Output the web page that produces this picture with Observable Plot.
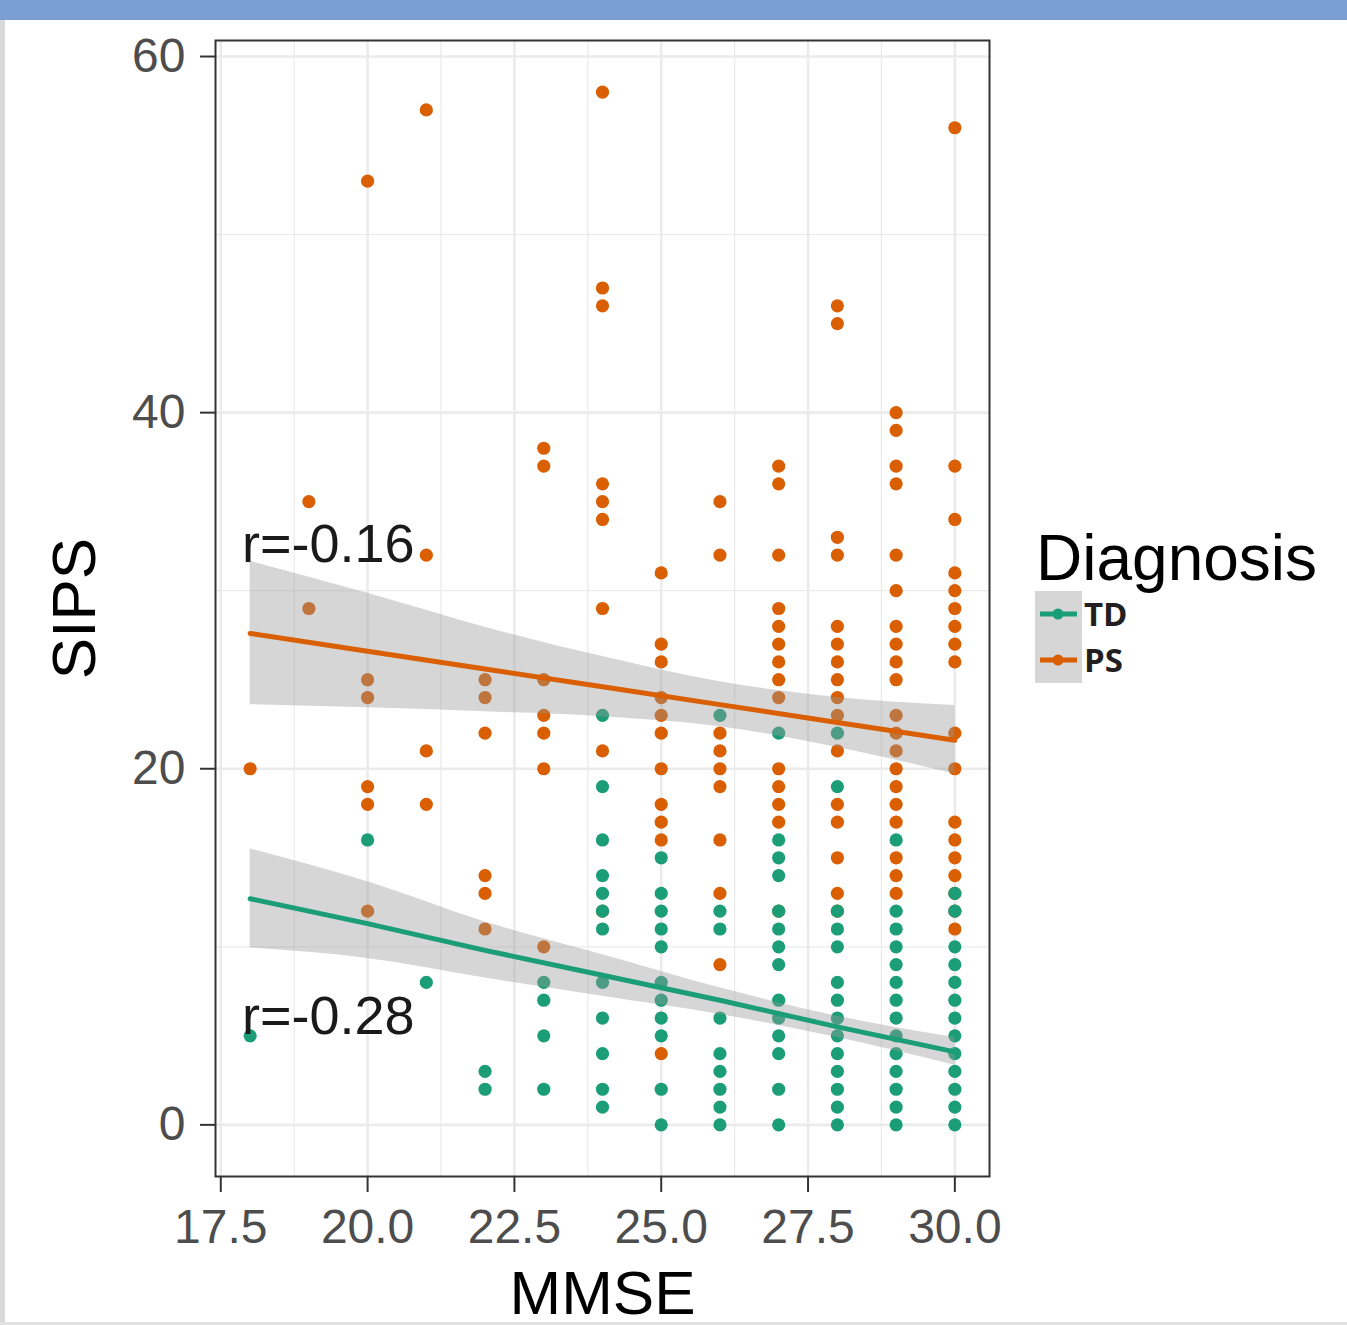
<!DOCTYPE html>
<html><head><meta charset="utf-8">
<script src="https://cdn.jsdelivr.net/npm/d3@7"></script>
<script src="https://cdn.jsdelivr.net/npm/@observablehq/plot@0.6"></script>
<style>
html,body{margin:0;padding:0;background:#fff;}
body{width:1347px;height:1325px;overflow:hidden;position:relative;font-family:"Liberation Sans",Arial,sans-serif;}
#chart{position:absolute;left:0;top:0;}
#legend{position:absolute;left:0;top:0;}
#topbar{position:absolute;left:0;top:0;width:1347px;height:20px;background:#7b9fd4;}
#leftbar{position:absolute;left:0;top:20px;width:5px;height:1305px;background:#d9d9d9;}
#bottombar{position:absolute;left:0;top:1322px;width:1347px;height:3px;background:#e2e2e2;}
</style></head>
<body>
<div id="chart"></div>
<div id="legend"></div>
<div id="topbar"></div>
<div id="leftbar"></div>
<div id="bottombar"></div>
<script>
// ---- data ----
const diagnoses = ["TD", "PS"];
const colors = ["#1b9e77", "#d95f02"];
const mmseValues = [18, 19, 20, 21, 22, 23, 24, 25, 26, 27, 28, 29, 30];
const tdSips = [
  [5],
  [],
  [16],
  [8],
  [3, 2],
  [8, 7, 5, 2],
  [23, 19, 16, 14, 13, 12, 11, 8, 6, 4, 2, 1],
  [15, 13, 12, 11, 10, 8, 7, 6, 5, 2, 0],
  [23, 12, 11, 6, 4, 3, 2, 1, 0],
  [22, 16, 15, 14, 12, 11, 10, 9, 7, 6, 5, 4, 2, 0],
  [22, 19, 12, 11, 10, 8, 7, 6, 5, 4, 3, 2, 1, 0],
  [16, 12, 11, 10, 9, 8, 7, 6, 5, 4, 3, 2, 1, 0],
  [13, 12, 10, 9, 8, 7, 6, 5, 4, 3, 2, 1, 0]
];
const psSips = [
  [20],
  [35, 29],
  [53, 25, 24, 19, 18, 12],
  [57, 32, 21, 18],
  [25, 24, 22, 14, 13, 11],
  [38, 37, 25, 23, 22, 20, 10],
  [58, 47, 46, 36, 35, 34, 29, 21, 12],
  [31, 27, 26, 24, 23, 22, 20, 18, 17, 16, 4],
  [35, 32, 22, 21, 20, 19, 16, 13, 9],
  [37, 36, 32, 29, 28, 27, 26, 25, 24, 20, 19, 18, 17, 12],
  [46, 45, 33, 32, 28, 27, 26, 25, 24, 23, 21, 18, 17, 15, 13, 12],
  [40, 39, 37, 36, 32, 30, 28, 27, 26, 25, 23, 22, 21, 20, 19, 18, 17, 15, 14, 13],
  [56, 37, 34, 31, 30, 29, 28, 27, 26, 22, 20, 17, 16, 15, 14, 13, 12, 11]
];
// fitted lines and 95% bands
const smoothX = [18, 20, 22, 24, 26, 28, 30];
const tdFit = [12.7, 11.3, 9.8, 8.4, 7.0, 5.5, 4.1];
const tdLo  = [9.93, 9.35, 8.25, 7.22, 6.2, 4.9, 3.35];
const tdHi  = [15.5, 13.65, 11.4, 9.56, 7.7, 6.1, 4.9];
const psFit = [27.6, 26.6, 25.6, 24.6, 23.6, 22.6, 21.6];
const psLo  = [23.6, 23.42, 23.2, 22.92, 22.36, 21.2, 19.7];
const psHi  = [31.65, 29.85, 27.95, 26.3, 24.88, 24.0, 23.55];
// annotations
const annoLabels = ["r=-0.16", "r=-0.28"];
const annoX = [19.33, 19.33];
const annoY = [32.6, 6.1];
// axes
const xTicks = [17.5, 20, 22.5, 25, 27.5, 30];
const xMinor = [18.75, 21.25, 23.75, 26.25, 28.75];
const yTicks = [0, 20, 40, 60];
const yMinor = [10, 30, 50];
const xLabel = "MMSE";
const yLabel = "SIPS";
const legendTitle = "Diagnosis";

// ---- build tables ----
const points = [];
mmseValues.forEach((m, i) => psSips[i].forEach(s => points.push({mmse: m, sips: s, diagnosis: "PS"})));
mmseValues.forEach((m, i) => tdSips[i].forEach(s => points.push({mmse: m, sips: s, diagnosis: "TD"})));
const smooth = [];
smoothX.forEach((m, i) => smooth.push({mmse: m, fit: tdFit[i], lo: tdLo[i], hi: tdHi[i], diagnosis: "TD"}));
smoothX.forEach((m, i) => smooth.push({mmse: m, fit: psFit[i], lo: psLo[i], hi: psHi[i], diagnosis: "PS"}));
const annos = annoLabels.map((t, i) => ({t, x: annoX[i], y: annoY[i]}));

const plot = Plot.plot({
  width: 1347,
  height: 1325,
  marginLeft: 215,
  marginRight: 358,
  marginTop: 40,
  marginBottom: 149,
  style: {fontFamily: "'Liberation Sans', Arial, sans-serif", background: "transparent", overflow: "visible"},
  x: {domain: [17.41, 30.59]},
  y: {domain: [-2.9, 60.9]},
  color: {domain: diagnoses, range: colors},
  marks: [
    Plot.ruleX(xMinor, {stroke: "#ebebeb", strokeWidth: 1.3}),
    Plot.ruleY(yMinor, {stroke: "#ebebeb", strokeWidth: 1.3}),
    Plot.ruleX(xTicks, {stroke: "#ebebeb", strokeWidth: 2.6}),
    Plot.ruleY(yTicks, {stroke: "#ebebeb", strokeWidth: 2.6}),
    Plot.dot(points, {x: "mmse", y: "sips", fill: "diagnosis", r: 6.6, stroke: "none"}),
    Plot.areaY(smooth, {x: "mmse", y1: "lo", y2: "hi", z: "diagnosis", fill: "#999999", fillOpacity: 0.4, curve: "monotone-x"}),
    Plot.lineY(smooth, {x: "mmse", y: "fit", z: "diagnosis", stroke: "diagnosis", strokeWidth: 5}),
    Plot.text(annos, {x: "x", y: "y", text: "t", fontSize: 54, fill: "#1a1a1a"}),
    Plot.frame({stroke: "#333333", strokeWidth: 2}),
    Plot.axisX(xTicks, {tickSize: 16, tickPadding: 16, stroke: "#333333", strokeWidth: 2, fill: "#4d4d4d", fontSize: 48, tickFormat: d => d.toFixed(1), label: null}),
    Plot.axisY(yTicks, {tickSize: 15, tickPadding: 15, stroke: "#333333", strokeWidth: 2, fill: "#4d4d4d", fontSize: 48, label: null}),
    Plot.text([xLabel], {text: d => d, frameAnchor: "bottom", lineAnchor: "bottom", dy: 137, fontSize: 62, fill: "#000"}),
    Plot.text([yLabel], {text: d => d, frameAnchor: "left", textAnchor: "middle", lineAnchor: "middle", dx: -140, rotate: -90, fontSize: 62, fill: "#000"})
  ]
});
document.getElementById("chart").appendChild(plot);

// ---- legend ----
const lg = d3.select("#legend").append("svg").attr("width", 1347).attr("height", 1325)
  .style("font-family", "'Liberation Sans', Arial, sans-serif");
lg.append("text").attr("x", 1036).attr("y", 580).attr("font-size", 64).attr("fill", "#000").text(legendTitle);
lg.append("rect").attr("x", 1035).attr("y", 591).attr("width", 47).attr("height", 92).attr("fill", "#d6d6d6");
diagnoses.forEach((d, i) => {
  const cy = 614 + i * 46;
  lg.append("line").attr("x1", 1040).attr("x2", 1077).attr("y1", cy).attr("y2", cy)
    .attr("stroke", colors[i]).attr("stroke-width", 5);
  lg.append("circle").attr("cx", 1058).attr("cy", cy).attr("r", 5.5).attr("fill", colors[i]);
  lg.append("text").attr("x", 1084).attr("y", cy).attr("dy", "0.36em")
    .attr("font-family", "'Open Sans', sans-serif").attr("font-weight", 700)
    .attr("font-size", 33).attr("fill", "#231f20").text(d);
});
</script>
</body></html>
